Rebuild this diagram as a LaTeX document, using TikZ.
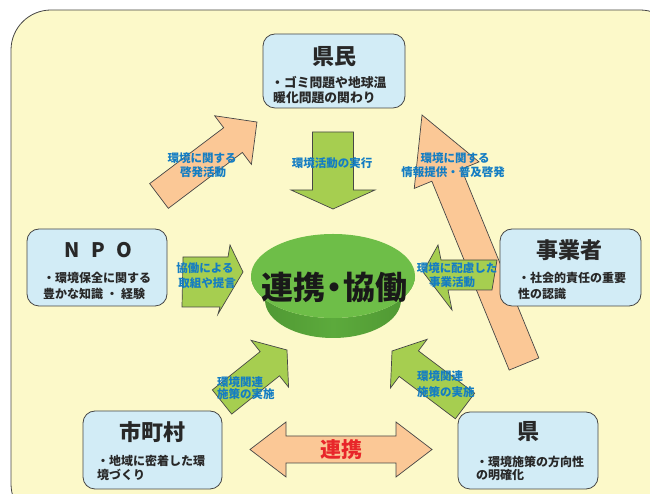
\documentclass[tikz,border=0pt]{standalone}
\usepackage{fontspec}
\setmainfont{Noto Sans CJK JP}
\definecolor{bgY}{RGB}{252,249,201}
\definecolor{boxB}{RGB}{210,236,246}
\definecolor{peach}{RGB}{251,200,150}
\definecolor{grA}{RGB}{166,206,80}
\definecolor{grT}{RGB}{110,190,72}
\definecolor{grS}{RGB}{92,170,60}
\definecolor{grD}{RGB}{78,150,50}
\definecolor{lblue}{RGB}{20,125,195}
\definecolor{txt}{RGB}{40,40,40}
\definecolor{edge}{RGB}{70,70,70}
\definecolor{redT}{RGB}{232,38,42}
\newcommand\bkarrow[8]{%
 \pgfmathsetmacro\baang{atan2(#5-#3,#4-#2)}%
 \pgfmathsetmacro\balen{veclen(#4-#2,#5-#3)}%
 \begin{scope}[shift={(#2,#3)},rotate=\baang]
 \path[#1] (0,-#6) -- (\balen-#8,-#6) -- (\balen-#8,-#7) -- (\balen,0) -- (\balen-#8,#7) -- (\balen-#8,#6) -- (0,#6) -- cycle;
 \end{scope}}
\tikzset{
 box/.style={draw=edge, line width=0.8pt, fill=boxB, rounded corners=12pt, inner sep=0pt},
 ttl/.style={font=\bfseries\fontsize{22}{22}\selectfont, text=txt, inner sep=0pt},
 body/.style={font=\bfseries\fontsize{12}{12}\selectfont, text=txt, anchor=west, inner sep=0pt},
 lbl/.style={font=\bfseries\fontsize{11.5}{11.5}\selectfont, text=lblue, inner sep=0pt},
 lblw/.style={lbl, anchor=west},
 parrow/.style={fill=peach, draw=edge, line width=0.7pt, line join=miter},
 garrow/.style={fill=grA, draw=edge, line width=0.7pt, line join=miter},
}
\begin{document}
\begin{tikzpicture}[x=1pt,y=1pt]
\useasboundingbox (0,0) rectangle (650,494);
\clip (0,0) rectangle (650,494);
% background
\path[fill=bgY, draw=edge, line width=0.8pt, rounded corners=40pt] (11,-30) rectangle (680,484);
% peach arrows
\bkarrow{parrow}{159}{298}{257}{372}{15.5}{30.5}{30}
\bkarrow{parrow}{524}{130}{422}{379}{16}{35}{65}
% green arrows
\bkarrow{garrow}{333}{362}{333}{285}{20.5}{42}{19}
\bkarrow{garrow}{222}{92}{287}{144}{15.5}{30}{22}
\bkarrow{garrow}{465}{88}{392}{143}{16}{30.5}{21}
% arrow NPO -> centre
\path[garrow] (182,187) -- (183,237) -- (228,237) -- (230,249) -- (243,222) -- (218,180) -- (220,187) -- cycle;
% arrow business -> centre
\path[garrow] (497,234) -- (441,234) -- (438,249) -- (423,222) -- (452,184) -- (448,204) -- (492,204) -- cycle;
% double arrow
\path[parrow] (250,44.5) -- (286,72) -- (286,58) -- (396,58) -- (396,72) -- (432,44.5) -- (396,17) -- (396,31) -- (286,31) -- (286,17) -- cycle;
\node[font=\bfseries\fontsize{21}{21}\selectfont, text=redT, inner sep=0pt] (renkei) at (341,44) {連携};
% cylinder
\path[left color=grD, right color=grD, middle color=grS] (251,218) -- (265,194) arc[start angle=180, end angle=360, x radius=68, y radius=38] -- (415,218) arc[start angle=0, end angle=-180, x radius=82, y radius=42] -- cycle;
\path[fill=grT] (333,218) ellipse[x radius=82, y radius=42];
\node[font=\bfseries\fontsize{32}{32}\selectfont, text=black!90, inner sep=0pt] (center) at (334,207) {連携\kern-7pt・\kern-7pt協働};
% boxes
\node[box, minimum width=142pt, minimum height=74pt] (kenmin) at (334,423) {};
\node[box, minimum width=140pt, minimum height=77pt] (npo) at (97,226.5) {};
\node[box, minimum width=141pt, minimum height=77pt] (jigyo) at (570.5,226.5) {};
\node[box, minimum width=139pt, minimum height=78pt] (shi) at (152.5,44) {};
\node[box, minimum width=140pt, minimum height=77pt] (ken) at (528,43.5) {};
% titles
\node[ttl] (t1) at (334,437) {県民};
\node[ttl, font=\bfseries\fontsize{20}{20}\selectfont] (t2a) at (72,244) {N};
\node[ttl, font=\bfseries\fontsize{20}{20}\selectfont] (t2b) at (98,244) {P};
\node[ttl, font=\bfseries\fontsize{20}{20}\selectfont] (t2c) at (124,244) {O};
\node[ttl] (t3) at (569,244) {事業者};
\node[ttl] (t4) at (152,62) {市町村};
\node[ttl] (t5) at (528,62) {県};
% body texts
\node[body, font=\bfseries\fontsize{12.8}{12.8}\selectfont] (b1a) at (271,411) {・ゴミ問題や地球温};
\node[body, font=\bfseries\fontsize{12.8}{12.8}\selectfont] (b1b) at (273,396) {暖化問題の関わり};
\node[body] (b2a) at (43,216) {・環境保全に関する};
\node[body] (b2b) at (43,200) {豊かな知識\hspace{3pt}・\hspace{3pt}経験};
\node[body] (b3a) at (518,216) {・社会的責任の重要};
\node[body] (b3b) at (518,200) {性の認識};
\node[body] (b4a) at (97,33) {・地域に密着した環};
\node[body] (b4b) at (97,19) {境づくり};
\node[body] (b5a) at (476,32) {・環境施策の方向性};
\node[body] (b5b) at (476,19) {の明確化};
% arrow labels
\node[lbl] (l1a) at (202,336) {環境に関する};
\node[lbl] (l1b) at (203,322) {啓発活動};
\node[lbl] (l2) at (332,331) {環境活動の実行};
\node[lbl] (l3a) at (455,336) {環境に関する};
\node[lbl] (l3b) at (453,322) {情報提供・普及啓発};
\node[lbl] (l4a) at (205,226) {協働による};
\node[lbl] (l4b) at (207,211) {取組や提言};
\node[lbl] (l5a) at (457,226) {環境に配慮した};
\node[lbl] (l5b) at (452,212) {事業活動};
\node[lblw] (l6a) at (217,112) {環境関連};
\node[lblw] (l6b) at (217,99.5) {施策の実施};
\node[lblw] (l7a) at (417,118) {環境関連};
\node[lblw] (l7b) at (417,102) {施策の実施};
\end{tikzpicture}
\end{document}
